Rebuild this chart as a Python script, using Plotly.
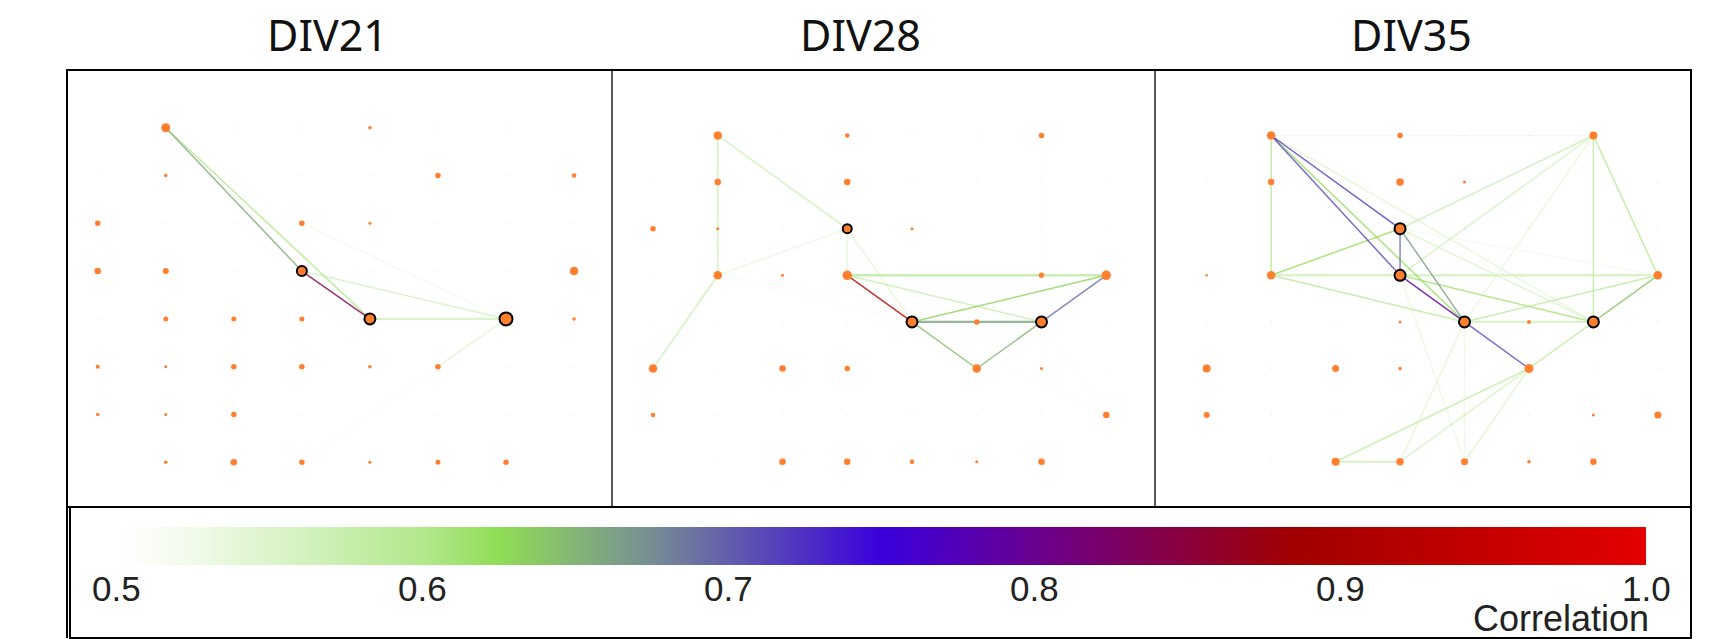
import plotly.graph_objects as go

W, H = 1713, 639
TITLES = ['DIV21', 'DIV28', 'DIV35']

# colour scale of the correlation bar
CORR_STOPS = [0.5, 0.52, 0.56, 0.6, 0.625, 0.674, 0.75, 0.8, 0.884, 1.0]
CORR_COLORS = ['#ffffff', '#f4fbef', '#d4f2c0', '#b2e88c', '#8fdd55', '#778e93',
               '#3a00dd', '#6a0090', '#a00000', '#e40000']
BAR_TICKS = [0.5, 0.6, 0.7, 0.8, 0.9, 1.0]
BAR_LABELS = ['0.5', '0.6', '0.7', '0.8', '0.9', '1.0']

# node activity per electrode, row by row (8x8 array). 0 = nothing visible, 1 = barely visible
ACTIVITY_DIV21 = [
    [0, 9, 1, 1, 3.5, 1, 1, 0],
    [1, 3.5, 1, 1, 1, 5.5, 1, 4.5],
    [5.5, 1, 1, 5.5, 3, 1, 1, 1],
    [6.5, 6, 1, 10, 1, 1, 1, 8.5],
    [1, 5, 5, 5, 11, 0, 13, 3.5],
    [4, 3, 5.5, 5.5, 3.5, 5.5, 1, 1],
    [3.5, 3, 5.5, 1, 0, 1, 1, 1],
    [0, 3.5, 6.5, 5.5, 3, 5, 5.5, 0],
]
ACTIVITY_DIV28 = [
    [0, 8.5, 1, 4.5, 1, 1, 5.5, 0],
    [1, 6.5, 0, 6.5, 1, 1, 1, 1],
    [5.5, 3, 1, 9, 3, 0, 1, 1],
    [1, 8.5, 3, 9.5, 0, 0, 5.5, 9.5],
    [1, 1, 1, 1, 11, 5.5, 11, 1],
    [8.5, 1, 6.5, 5.5, 1, 8.5, 3, 1],
    [4.5, 1, 1, 1, 1, 1, 1, 6.5],
    [0, 1, 6.5, 6.5, 4.5, 3, 6.5, 0],
]
ACTIVITY_DIV35 = [
    [0, 8.5, 0, 5.5, 1, 1, 8, 0],
    [1, 6.5, 0, 7.5, 3, 0, 0, 1],
    [0, 0, 0, 11, 1, 1, 1, 1],
    [2.5, 8.5, 0, 11, 0, 0, 0, 8.5],
    [1, 1, 1, 3, 11, 4, 11, 1],
    [8, 1, 7, 3.5, 1, 9, 1, 1],
    [6, 1, 1, 1, 1, 1, 3, 7],
    [0, 1, 8, 7.5, 7, 3.5, 6.5, 0],
]

# nodes with black ring (col, row)
HUBS_DIV21 = [(3, 3), (4, 4), (6, 4)]
HUBS_DIV28 = [(3, 2), (4, 4), (6, 4)]
HUBS_DIV35 = [(3, 2), (3, 3), (4, 4), (6, 4)]

# edges: col1, row1, col2, row2, correlation
EDGES_DIV21 = [
    (1, 0, 1, 1, 0.505), (6, 4, 3, 7, 0.51), (3, 2, 6, 4, 0.52), (6, 4, 5, 5, 0.54),
    (3, 3, 6, 4, 0.56), (4, 4, 6, 4, 0.56), (1, 0, 4, 4, 0.6), (1, 0, 3, 3, 0.655),
    (3, 3, 4, 4, 0.84),
]
EDGES_DIV28 = [
    (6, 0, 6, 3, 0.505), (1, 3, 4, 4, 0.51), (1, 3, 6, 4, 0.51), (4, 4, 7, 6, 0.51),
    (6, 4, 7, 6, 0.505), (1, 3, 3, 2, 0.53), (3, 2, 3, 3, 0.54), (3, 2, 4, 4, 0.54),
    (1, 0, 1, 3, 0.57), (1, 0, 3, 2, 0.57), (1, 3, 0, 5, 0.57), (3, 3, 6, 4, 0.575),
    (3, 3, 7, 3, 0.585), (4, 4, 7, 3, 0.63), (4, 4, 5, 5, 0.645), (5, 5, 6, 4, 0.65),
    (4, 4, 6, 4, 0.66), (6, 4, 7, 3, 0.69), (3, 3, 4, 4, 0.93),
]
EDGES_DIV35 = [
    (2, 7, 5, 4, 0.505), (3, 1, 3, 2, 0.505), (3, 2, 7, 3, 0.52), (1, 0, 6, 0, 0.525),
    (3, 3, 4, 7, 0.53), (4, 4, 4, 7, 0.53), (4, 4, 3, 7, 0.54), (6, 0, 4, 4, 0.535),
    (1, 0, 6, 4, 0.54), (3, 2, 6, 4, 0.55), (5, 5, 4, 7, 0.55), (5, 5, 3, 7, 0.56),
    (6, 0, 3, 3, 0.56), (6, 0, 3, 2, 0.57), (1, 3, 7, 3, 0.56), (4, 4, 6, 4, 0.56),
    (5, 5, 2, 7, 0.58), (2, 7, 3, 7, 0.58), (1, 3, 4, 4, 0.585), (4, 4, 7, 3, 0.585),
    (5, 5, 6, 4, 0.585), (6, 0, 6, 4, 0.585), (1, 0, 1, 3, 0.595), (6, 0, 7, 3, 0.595),
    (3, 3, 6, 4, 0.61), (1, 3, 3, 2, 0.62), (1, 0, 4, 4, 0.62), (6, 4, 7, 3, 0.64),
    (3, 2, 4, 4, 0.665), (3, 2, 3, 3, 0.69), (1, 0, 3, 3, 0.71), (4, 4, 5, 5, 0.71),
    (1, 0, 3, 2, 0.72), (3, 3, 4, 4, 0.79),
]
WIDE_EDGES = [(3, 3, 7, 3), (1, 3, 7, 3), (4, 4, 6, 4)]

ACTIVITY = [ACTIVITY_DIV21, ACTIVITY_DIV28, ACTIVITY_DIV35]
HUBS = [HUBS_DIV21, HUBS_DIV28, HUBS_DIV35]
EDGES = [EDGES_DIV21, EDGES_DIV28, EDGES_DIV35]

# pixel placement of the panels: left, right, x of col 0, col step, y of row 0, row step
PANELS = [
    (67, 612, 97.7, 68.05, 127.7, 47.8),
    (612, 1155, 653, 64.75, 135.5, 46.6),
    (1155, 1691, 1206.7, 64.45, 135.5, 46.6),
]
TOP, BOTTOM = 70, 507
ORANGE = '#ff7f2f'


def hex_rgb(c):
    return [int(c[i:i + 2], 16) for i in (1, 3, 5)]


def corr_color(v):
    for i in range(len(CORR_STOPS) - 1):
        if v <= CORR_STOPS[i + 1]:
            t = (v - CORR_STOPS[i]) / (CORR_STOPS[i + 1] - CORR_STOPS[i])
            a, b = hex_rgb(CORR_COLORS[i]), hex_rgb(CORR_COLORS[i + 1])
            return 'rgb(%d,%d,%d)' % tuple(a[k] + t * (b[k] - a[k]) for k in range(3))
    return CORR_COLORS[-1]


fig = go.Figure()
layout_axes = {}

for p, (left, right, x0, dx, y0, dy) in enumerate(PANELS):
    n = '' if p == 0 else str(p + 1)
    layout_axes['xaxis' + n] = dict(
        domain=[left / W, right / W], range=[(left - x0) / dx, (right - x0) / dx],
        visible=False, anchor='y' + n, fixedrange=True)
    layout_axes['yaxis' + n] = dict(
        domain=[1 - BOTTOM / H, 1 - TOP / H], range=[(BOTTOM - y0) / dy, (TOP - y0) / dy],
        visible=False, anchor='x' + n, fixedrange=True)

    for c1, r1, c2, r2, v in EDGES[p]:
        wide = (c1, r1, c2, r2) in WIDE_EDGES
        fig.add_trace(go.Scatter(
            x=[c1, c2], y=[r1, r2], mode='lines', xaxis='x' + n, yaxis='y' + n,
            line=dict(color=corr_color(v), width=2.4 if wide else 1.5), opacity=0.8,
            hoverinfo='skip', showlegend=False))

    xs, ys, sizes, colors = [], [], [], []
    for r, row in enumerate(ACTIVITY[p]):
        for c, a in enumerate(row):
            if a == 0 or (c, r) in HUBS[p]:
                continue
            xs.append(c)
            ys.append(r)
            sizes.append(2 if a == 1 else a)
            colors.append('rgba(255,127,47,0.12)' if a == 1 else ORANGE)
    fig.add_trace(go.Scatter(
        x=xs, y=ys, mode='markers', xaxis='x' + n, yaxis='y' + n,
        marker=dict(size=sizes, color=colors, opacity=1, line=dict(width=0)),
        hoverinfo='skip', showlegend=False))

    fig.add_trace(go.Scatter(
        x=[h[0] for h in HUBS[p]], y=[h[1] for h in HUBS[p]], mode='markers',
        xaxis='x' + n, yaxis='y' + n,
        marker=dict(size=[ACTIVITY[p][h[1]][h[0]] for h in HUBS[p]], color=ORANGE, opacity=1,
                    line=dict(color='black', width=2)),
        hoverinfo='skip', showlegend=False))

# correlation bar
fig.add_trace(go.Heatmap(
    z=[CORR_STOPS, CORR_STOPS], x=CORR_STOPS, y=[0, 1], xaxis='x4', yaxis='y4',
    zmin=0.5, zmax=1.0, zsmooth='best', showscale=False, hoverinfo='skip',
    colorscale=[[(s - 0.5) / 0.5, c] for s, c in zip(CORR_STOPS, CORR_COLORS)]))
layout_axes['xaxis4'] = dict(
    domain=[117 / W, 1646 / W], range=[0.5, 1.0], anchor='y4', fixedrange=True,
    showticklabels=False, ticks='', showgrid=False, zeroline=False, showline=False)
layout_axes['yaxis4'] = dict(
    domain=[1 - 565 / H, 1 - 527 / H], range=[0, 1], anchor='x4', visible=False, fixedrange=True)

annotations = [
    dict(text=t, x=cx / W, y=1 - 66 / H, xref='paper', yref='paper', xanchor='center', yanchor='bottom',
         showarrow=False, font=dict(family='Noto Sans', size=43, color='#111111'))
    for t, cx in zip(TITLES, [327, 860, 1411])
]
for v, lab in zip(BAR_TICKS, BAR_LABELS):
    annotations.append(dict(
        text=lab, x=v, y=1 - 588 / H, xref='x4', yref='paper', xanchor='center', yanchor='middle',
        showarrow=False, font=dict(family='Liberation Sans', size=35, color='#222222')))
annotations.append(dict(
    text='Correlation', x=1561 / W, y=1 - 618 / H, xref='paper', yref='paper', xanchor='center',
    yanchor='middle', showarrow=False, font=dict(family='Liberation Sans', size=36, color='#222222')))


def frame(x1, y1, x2, y2, width):
    return dict(type='rect', xref='paper', yref='paper', x0=x1 / W, x1=x2 / W, y0=1 - y1 / H, y1=1 - y2 / H,
                line=dict(color='black', width=width), fillcolor='rgba(0,0,0,0)', layer='above')


shapes = [
    frame(67, 70, 1691, 507, 2),
    frame(612, 70, 612, 507, 1.3),
    frame(1155, 70, 1155, 507, 1.3),
    frame(70, 507, 1691, 638, 2),
    frame(67, 507, 67, 638, 2),
]

fig.update_layout(
    width=W, height=H, margin=dict(l=0, r=0, t=0, b=0, autoexpand=False),
    paper_bgcolor='white', plot_bgcolor='white',
    annotations=annotations, shapes=shapes, showlegend=False, **layout_axes)

fig.write_html('out.html', config={'displayModeBar': False},
               post_script="document.body.style.margin='0';")
